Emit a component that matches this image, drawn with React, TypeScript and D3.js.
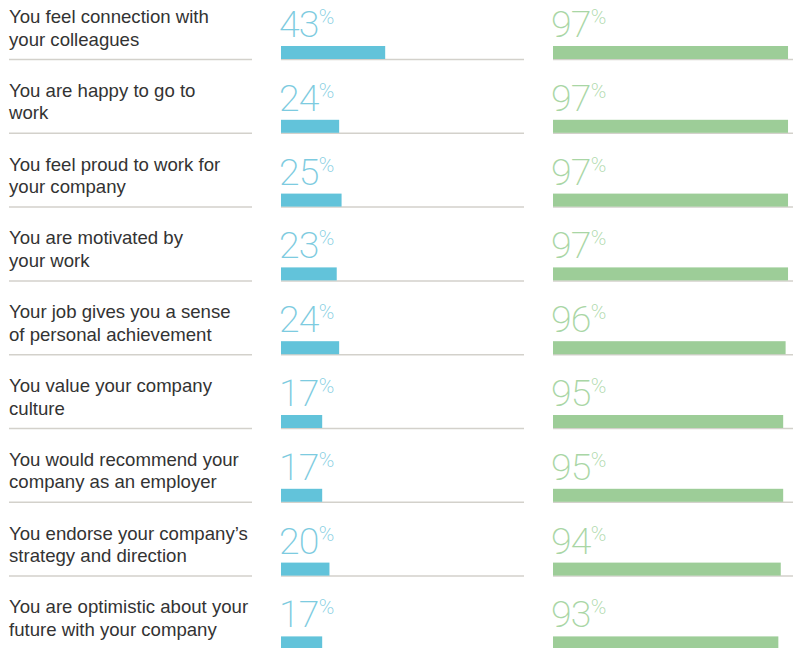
import React from "react";
import * as d3 from "d3";

const labelLine1 = [
  "You feel connection with",
  "You are happy to go to",
  "You feel proud to work for",
  "You are motivated by",
  "Your job gives you a sense",
  "You value your company",
  "You would recommend your",
  "You endorse your company’s",
  "You are optimistic about your",
];
const labelLine2 = [
  "your colleagues",
  "work",
  "your company",
  "your work",
  "of personal achievement",
  "culture",
  "company as an employer",
  "strategy and direction",
  "future with your company",
];
const blueValues = [43, 24, 25, 23, 24, 17, 17, 20, 17];
const greenValues = [97, 97, 97, 97, 96, 95, 95, 94, 93];

const W = 793;
const H = 648;
const PITCH = 73.8;

export default function App() {
  const idx = d3.range(labelLine1.length);
  const y = d3.scaleBand<number>().domain(idx).range([0, PITCH * idx.length]).padding(0);
  const x = d3.scaleLinear().domain([0, 100]).range([0, 242.3]);

  const blueX = 281;
  const greenX = 553;
  const lineColor = "#d3d1cb";
  const labelFont = "'Liberation Sans', Arial, Helvetica, sans-serif";
  const numFont = "Roboto, 'Helvetica Neue', sans-serif";

  return (
    <svg
      width={W}
      height={H}
      style={{ position: "absolute", left: 0, top: 0, background: "#fff" }}
    >
      {idx.map((i) => {
        const y0 = y(i) as number;
        const divY = y0 + 59.5;
        return (
          <g key={i}>
            <text x={9} y={y0 + 23} fontFamily={labelFont} fontSize={18.6} fill="#333">
              {labelLine1[i]}
            </text>
            <text x={9} y={y0 + 45.5} fontFamily={labelFont} fontSize={18.6} fill="#333">
              {labelLine2[i]}
            </text>
            <line x1={9} x2={252} y1={divY} y2={divY} stroke={lineColor} strokeWidth={1.5} />
            <line x1={blueX} x2={524} y1={divY} y2={divY} stroke={lineColor} strokeWidth={1.5} />
            <line x1={greenX} x2={793} y1={divY} y2={divY} stroke={lineColor} strokeWidth={1.5} />

            <rect x={blueX} y={y0 + 46} width={x(blueValues[i])} height={13} fill="#62c3da" />
            <rect x={greenX} y={y0 + 46} width={x(greenValues[i])} height={13} fill="#9dcd98" />

            <text x={blueX - 2} y={y0 + 37} fontFamily={numFont} fontWeight={200} fill="#7dcbe0">
              <tspan fontSize={37.5} letterSpacing={-0.8}>{blueValues[i]}</tspan>
              <tspan fontSize={21} dy={-13}>%</tspan>
            </text>
            <text x={greenX - 2} y={y0 + 37} fontFamily={numFont} fontWeight={200} fill="#a9d6a5">
              <tspan fontSize={37.5} letterSpacing={-0.8}>{greenValues[i]}</tspan>
              <tspan fontSize={21} dy={-13}>%</tspan>
            </text>
          </g>
        );
      })}
    </svg>
  );
}
